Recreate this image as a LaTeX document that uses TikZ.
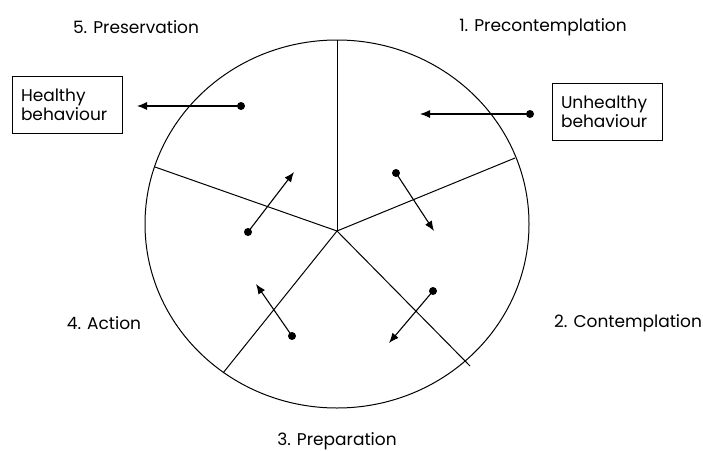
\documentclass[tikz,border=0pt]{standalone}
\usepackage{fontspec}
\setmainfont{Poppins}
\usetikzlibrary{arrows.meta}

\tikzset{
  stage/.style={font=\fontsize{17}{20}\selectfont},
  behaviour/.style={draw, line width=1pt, align=left, text width=92pt,
    minimum height=57pt, inner xsep=9pt, inner ysep=4pt,
    font=\fontsize{17}{19}\selectfont},
  dot/.style={circle, fill, inner sep=0pt, minimum size=8pt},
  spoke/.style={line width=1pt},
  move/.style={-{Latex[length=10pt,width=8pt]}, line width=1.1pt}
}

\begin{document}
\begin{tikzpicture}[x=1pt,y=-1pt]
\useasboundingbox (0,0) rectangle (703,450);

% wheel
\draw[spoke] (337,224) ellipse [x radius=192, y radius=184];
\coordinate (hub) at (337,231);
\coordinate (s1) at (337,40);
\coordinate (s2) at (515,158);
\coordinate (s3) at (470,366);
\coordinate (s4) at (223,373);
\coordinate (s5) at (155,167);
\foreach \s in {s1,s2,s3,s4,s5}
  \draw[spoke] (hub) -- (\s);

% stages
\node[stage] (pre) at (543,27) {1. Precontemplation};
\node[stage] (con) at (628,323) {2. Contemplation};
\node[stage] (prep) at (337,441) {3. Preparation};
\node[stage] (act) at (104,323) {4. Action};
\node[stage] (pres) at (136,27) {5. Preservation};

% behaviour boxes
\node[behaviour] (healthy) at (67,105) {Healthy\\behaviour};
\node[behaviour] (unhealthy) at (607,112) {Unhealthy\\behaviour};

% dots and arrow ends
\node[dot] (d1) at (530,114) {};
\coordinate (t1) at (420,114);
\node[dot] (d2) at (396,173) {};
\coordinate (t2) at (434,231);
\node[dot] (d3) at (433,291) {};
\coordinate (t3) at (389,343);
\node[dot] (d4) at (292,336) {};
\coordinate (t4) at (256,284);
\node[dot] (d5) at (248,232) {};
\coordinate (t5) at (294,172);
\node[dot] (d6) at (241,106) {};
\coordinate (t6) at (137,106);

\foreach \i in {1,...,6}
  \draw[move] (d\i.center) -- (t\i);

\end{tikzpicture}
\end{document}
